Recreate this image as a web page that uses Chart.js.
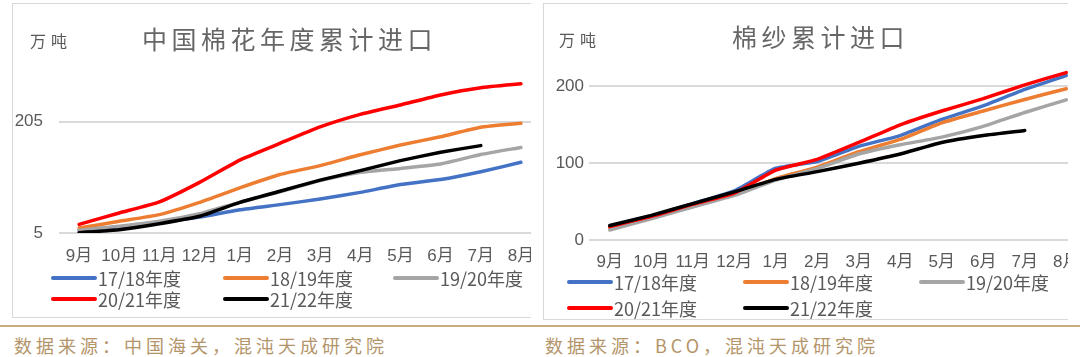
<!DOCTYPE html>
<html><head><meta charset="utf-8">
<script src="https://cdn.jsdelivr.net/npm/chart.js@4/dist/chart.umd.min.js"></script>
<style>
html,body{margin:0;padding:0;background:#fff;}
body{width:1080px;height:357px;position:relative;overflow:hidden;font-family:"Noto Sans CJK SC","Noto Sans",sans-serif;}
.wrap{position:absolute;top:0;height:322px;overflow:hidden;}
.box{position:absolute;top:3px;border:1px solid #d9d9d9;background:#fff;}
.cv{position:absolute;top:0;}
.title{position:absolute;color:#666;font-size:25px;letter-spacing:4.5px;white-space:nowrap;line-height:1;}
.unit{position:absolute;color:#595959;font-size:16px;letter-spacing:5px;white-space:nowrap;line-height:1;}
.rule{position:absolute;left:0;top:325px;width:1080px;height:2px;background:#c8ab7e;}
.src{position:absolute;top:334px;color:#b4956a;font-size:18px;letter-spacing:4px;white-space:nowrap;line-height:22px;}
</style></head>
<body>
<div class="wrap" style="left:0;width:531px;">
  <div class="box" style="left:12px;width:560px;height:313px;"></div>
  <canvas id="c1" class="cv" style="left:12px;" width="545" height="322"></canvas>
  <div class="unit" style="left:30px;top:32px;">万吨</div>
  <div class="title" style="left:142px;top:26px;">中国棉花年度累计进口</div>
</div>
<div class="wrap" style="left:540px;width:528px;">
  <div class="box" style="left:3px;width:560px;height:315px;"></div>
  <canvas id="c2" class="cv" style="left:3px;" width="560" height="322"></canvas>
  <div class="unit" style="left:19px;top:31px;">万吨</div>
  <div class="title" style="left:192px;top:24px;">棉纱累计进口</div>
</div>
<div class="rule"></div>
<div class="src" style="left:14px;">数据来源：中国海关，混沌天成研究院</div>
<div class="src" style="left:545px;">数据来源：BCO，混沌天成研究院</div>
<script>
// ---- data ----
const months = ['9月','10月','11月','12月','1月','2月','3月','4月','5月','6月','7月','8月'];
const seasons = ['17/18年度','18/19年度','19/20年度','20/21年度','21/22年度'];
const seriesColors = ['#4472C4','#ED7D31','#A5A5A5','#FF0000','#000000'];

const cotton1718 = [10, 16, 24, 33.6, 46.7, 56, 66, 78, 92, 101, 115, 132];
const cotton1819 = [14, 26, 38, 60, 86, 110, 126, 145.5, 163, 178, 195, 202];
const cotton1920 = [10, 17, 26, 39.5, 60, 79, 99, 114, 121, 129, 146, 158.6];
const cotton2021 = [20.5, 41, 61, 96, 136, 166, 195.5, 218, 235, 253, 266, 273];
const cotton2122 = [5.6, 11, 21.7, 35, 60, 80, 100, 117, 135, 150, 162, null];

const yarn1718 = [16.7, 30.7, 47.4, 64, 93.4, 102, 122, 136, 157, 174.6, 196, 214];
const yarn1819 = [15.8, 29, 44, 60.5, 80, 95, 115, 131, 152.6, 168, 183, 197];
const yarn1920 = [13, 27.6, 43, 58, 78, 93, 112, 124, 134, 148, 166, 182.5];
const yarn2021 = [17.5, 30.7, 46.5, 61, 91, 105, 127, 150, 168, 184, 202, 218];
const yarn2122 = [18.9, 32, 47.4, 62.7, 79, 89, 100, 112, 127, 136, 142.5, null];

const cottonTicks = [5, 205];
const yarnTicks = [0, 100, 200];

const tickFont = { family: '"Liberation Sans", "Noto Sans CJK SC"', size: 17 };

// ---- legend plugin (draws dataset labels/colours in a grid) ----
const gridLegend = {
  id: 'gridLegend',
  afterDraw(chart, args, opts) {
    const ctx = chart.ctx;
    ctx.save();
    ctx.font = opts.font;
    ctx.textBaseline = 'middle';
    ctx.textAlign = 'left';
    chart.data.datasets.forEach((ds, i) => {
      const x = opts.cols[i % 3], y = opts.rows[Math.floor(i / 3)];
      ctx.strokeStyle = ds.borderColor;
      ctx.lineWidth = 4;
      ctx.lineCap = 'round';
      ctx.beginPath(); ctx.moveTo(x, y); ctx.lineTo(x + opts.len, y); ctx.stroke();
      ctx.fillStyle = opts.color;
      ctx.fillText(ds.label, x + opts.len + 3, y + 1);
    });
    ctx.restore();
  }
};

function makeDatasets(arrs) {
  return arrs.map((d, i) => ({
    label: seasons[i], data: d, borderColor: seriesColors[i], backgroundColor: seriesColors[i],
    borderWidth: 3.5, pointRadius: 0, tension: 0.15, fill: false, spanGaps: false,
    order: arrs.length - i, borderCapStyle: 'round', borderJoinStyle: 'round'
  }));
}

function makeChart(id, arrs, cfg) {
  return new Chart(document.getElementById(id), {
    type: 'line',
    data: { labels: months, datasets: makeDatasets(arrs) },
    plugins: [gridLegend],
    options: {
      responsive: false, animation: false, devicePixelRatio: 1,
      layout: { padding: { top: cfg.top, right: 16, bottom: 0, left: 0 } },
      plugins: {
        legend: { display: false }, tooltip: { enabled: false },
        gridLegend: cfg.legend
      },
      scales: {
        x: {
          offset: true,
          grid: { display: false, drawTicks: false },
          border: { display: false },
          ticks: { autoSkip: false, maxRotation: 0, padding: cfg.xPad, color: '#595959', font: tickFont },
          afterFit: s => { s.height = cfg.xH; }
        },
        y: {
          min: cfg.min, max: cfg.max,
          grid: { color: '#d9d9d9', lineWidth: 2, drawTicks: false },
          border: { display: false },
          ticks: { padding: cfg.yPad, color: '#595959', font: tickFont },
          afterBuildTicks: s => { s.ticks = cfg.ticks.map(v => ({ value: v })); },
          afterFit: s => { s.width = cfg.yW; }
        }
      }
    }
  });
}

makeChart('c1', [cotton1718, cotton1819, cotton1920, cotton2021, cotton2122], {
  top: 66, min: 5, max: 305, ticks: cottonTicks, yW: 47, yPad: 16, xH: 89, xPad: 13,
  legend: { cols: [41, 213, 383], rows: [278, 299], len: 42, color: '#595959',
            font: '18px "Noto Sans CJK SC"' }
});
makeChart('c2', [yarn1718, yarn1819, yarn1920, yarn2021, yarn2122], {
  top: 48, min: 0, max: 250, ticks: yarnTicks, yW: 46, yPad: 5, xH: 82, xPad: 12,
  legend: { cols: [26, 202, 378], rows: [282, 308], len: 42, color: '#595959',
            font: '18px "Noto Sans CJK SC"' }
});
</script>
</body></html>
